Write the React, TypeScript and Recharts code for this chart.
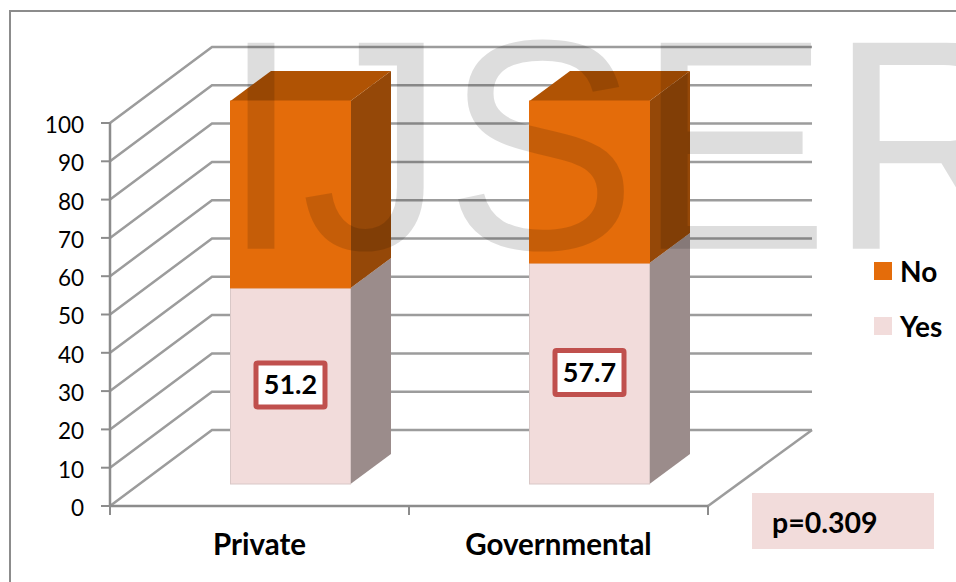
import { Bar, BarChart, CartesianGrid, LabelList, Legend, XAxis, YAxis } from 'recharts'

const sectors = ['Private', 'Governmental']
const yesValues = [51.2, 57.7]
const noValues = [48.8, 42.3]
const valueTicks = [0, 10, 20, 30, 40, 50, 60, 70, 80, 90, 100]

const tableData = sectors.map((name, i) => ({ name, Yes: yesValues[i], No: noValues[i] }))

const FONT = 'Lato, sans-serif'
const AXIS_GRAY = '#8c8c8c'
const GRID_GRAY = '#9c9c9c'

// fake 3D: the walls sit up and to the right of the axes
const WALL_DX = 102
const WALL_DY = -76
// columns stand partway into the floor, and are this deep
const COL_DX = 30.5
const COL_DY = -22
const DEPTH_DX = 40.5
const DEPTH_DY = -30

const faces: Record<string, { front: string; side: string; top: string; edge: string }> = {
    Yes: { front: '#f2dcdb', side: '#9b8c8b', top: '#b8a6a5', edge: '#d9c8c7' },
    No: { front: '#e46c0a', side: '#954808', top: '#b05304', edge: '#e46c0a' },
}

function Column3D(props: any) {
    const { x, y, width, height, dataKey } = props
    const c = faces[dataKey]
    const l = x + COL_DX
    const r = l + width
    const t = y + COL_DY
    const b = t + height
    return (
        <g>
            <path
                d={`M${r},${t} L${r + DEPTH_DX},${t + DEPTH_DY} L${r + DEPTH_DX},${b + DEPTH_DY} L${r},${b} Z`}
                fill={c.side}
            />
            <path
                d={`M${l},${t} L${l + DEPTH_DX},${t + DEPTH_DY} L${r + DEPTH_DX},${t + DEPTH_DY} L${r},${t} Z`}
                fill={c.top}
            />
            <rect x={l} y={t} width={width} height={height} fill={c.front} stroke={c.edge} strokeWidth={1} />
        </g>
    )
}

function WallLine(props: any) {
    const { x1, y1, x2, index } = props
    const yBack = y1 + WALL_DY
    return (
        <g key={index}>
            <path
                d={`M${x1},${y1} L${x1 + WALL_DX},${yBack} L${x2 + WALL_DX + 2},${yBack}`}
                fill="none"
                stroke={GRID_GRAY}
                strokeWidth={2.5}
            />
            {y1 > 500 && (
                <line x1={x2} y1={y1} x2={x2 + WALL_DX + 2} y2={yBack} stroke={GRID_GRAY} strokeWidth={2.5} />
            )}
        </g>
    )
}

function SectorTick(props: any) {
    const { x, y, payload, index } = props
    const half = 149.5
    return (
        <g>
            <line x1={x - half} y1={y - 8} x2={x - half} y2={y + 1} stroke={AXIS_GRAY} strokeWidth={2} />
            {index === sectors.length - 1 && (
                <line x1={x + half} y1={y - 8} x2={x + half} y2={y + 1} stroke={AXIS_GRAY} strokeWidth={2} />
            )}
            <text x={x} y={555} textAnchor="middle" fontFamily={FONT} fontWeight={700} fontSize={29.5} fill="#000">
                {payload.value}
            </text>
        </g>
    )
}

function ValueBox(props: any) {
    const { x, y, width, height, value } = props
    const cx = x + width / 2 + COL_DX
    const cy = y + height / 2 + COL_DY - 1
    return (
        <g>
            <rect x={cx - 34.5} y={cy - 22} width={69} height={44} rx={1.5} fill="#fff" stroke="#c0504d" strokeWidth={5} />
            <text x={cx} y={cy + 9.5} textAnchor="middle" fontFamily={FONT} fontWeight={700} fontSize={27} fill="#000">
                {value}
            </text>
        </g>
    )
}

function KeyList({ payload }: any) {
    return (
        <div>
            {(payload || []).map((item: any) => (
                <div key={item.value} style={{ display: 'flex', alignItems: 'center', height: 55 }}>
                    <span style={{ width: 18, height: 18, background: item.color, marginRight: 8 }} />
                    <span style={{ fontFamily: FONT, fontWeight: 700, fontSize: 28, color: '#000' }}>{item.value}</span>
                </div>
            ))}
        </div>
    )
}

export default function App() {
    return (
        <div style={{ position: 'absolute', left: 0, top: 0, width: 956, height: 582, overflow: 'hidden', background: '#fff' }}>
            <svg width={956} height={582} style={{ position: 'absolute', left: 0, top: 0 }}>
                <rect x={10} y={11} width={980} height={620} fill="none" stroke={AXIS_GRAY} strokeWidth={2} />
                <rect x={752} y={493} width={182} height={56} fill="#f2dcdb" />
                <text x={772} y={533} fontFamily={FONT} fontWeight={700} fontSize={28.5} fill="#000">
                    p=0.309
                </text>
            </svg>
            <div style={{ position: 'absolute', left: 0, top: 0 }}>
                <BarChart
                    width={956}
                    height={582}
                    data={tableData}
                    barSize={120}
                    margin={{ top: 123, right: 248, bottom: 0, left: 0 }}
                >
                    <CartesianGrid vertical={false} horizontal={(p: any) => <WallLine {...p} />} />
                    <XAxis
                        dataKey="name"
                        height={76}
                        tickLine={false}
                        axisLine={{ stroke: AXIS_GRAY, strokeWidth: 2.5 }}
                        interval={0}
                        tick={<SectorTick />}
                    />
                    <YAxis
                        width={110}
                        domain={[0, 100]}
                        ticks={valueTicks}
                        interval={0}
                        tickSize={9}
                        tickMargin={17}
                        tickLine={{ stroke: AXIS_GRAY, strokeWidth: 2 }}
                        axisLine={{ stroke: AXIS_GRAY, strokeWidth: 2.5 }}
                        tick={{ fontFamily: FONT, fontSize: 22.5, fill: '#000', dy: 2 }}
                    />
                    <Legend
                        layout="vertical"
                        align="center"
                        verticalAlign="middle"
                        wrapperStyle={{ left: 874, top: 243, width: 82 }}
                        content={<KeyList />}
                    />
                    <Bar dataKey="Yes" stackId="a" fill="#f2dcdb" isAnimationActive={false} shape={<Column3D />}>
                        <LabelList dataKey="Yes" content={<ValueBox />} />
                    </Bar>
                    <Bar dataKey="No" stackId="a" fill="#e46c0a" isAnimationActive={false} shape={<Column3D />} />
                </BarChart>
            </div>
            <svg width={956} height={582} style={{ position: 'absolute', left: 0, top: 0, pointerEvents: 'none' }}>
                <text
                    transform="translate(221,248.7) scale(1,1.04)"
                    fontFamily="'Liberation Sans', Arial, sans-serif"
                    fontSize={288}
                    fill="#000"
                    fillOpacity={0.135}
                >
                    IJSER
                </text>
            </svg>
        </div>
    )
}
